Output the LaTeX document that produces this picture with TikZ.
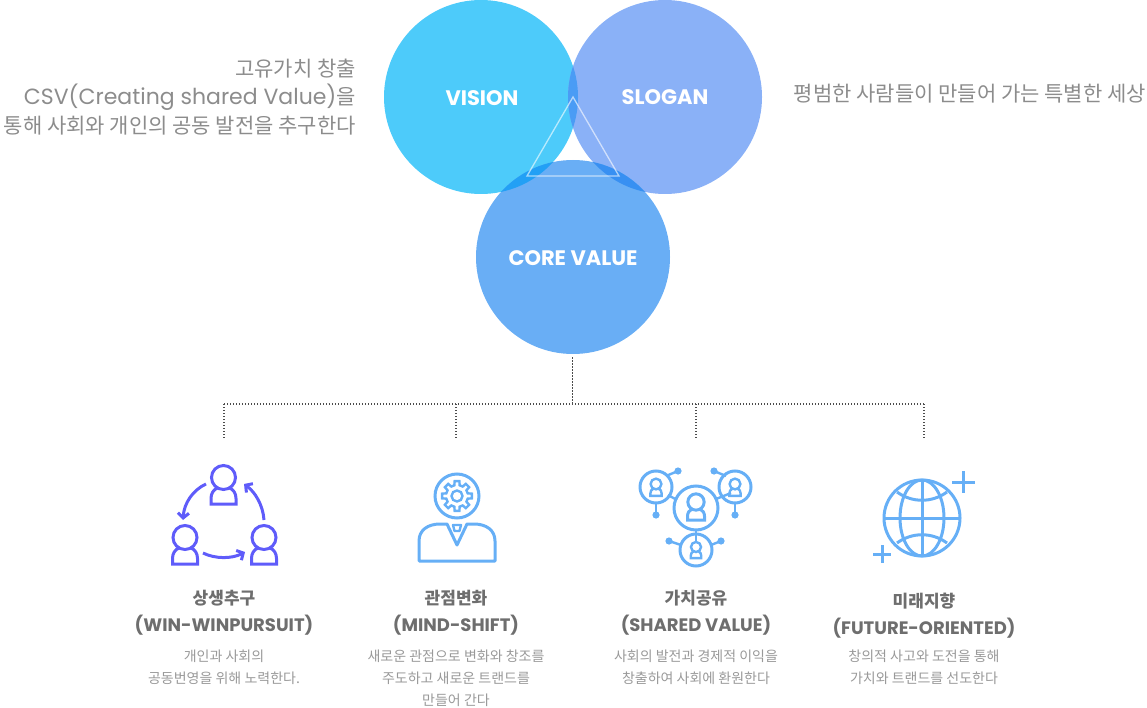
\documentclass[tikz,border=0pt]{standalone}
\usepackage{fontspec}
\setmainfont{Noto Sans CJK KR}
\newfontfamily\popfont{Poppins}
\usetikzlibrary{arrows.meta}
\definecolor{visionblue}{HTML}{4DCBFA}
\definecolor{sloganblue}{HTML}{8AB1F7}
\definecolor{coreblue}{HTML}{69AEF5}
\definecolor{lapvs}{HTML}{4A9CF5}
\definecolor{lapvc}{HTML}{22A0F5}
\definecolor{lapsc}{HTML}{3890F2}
\definecolor{iconblue}{HTML}{66AFF6}
\definecolor{iconviolet}{HTML}{5F5CFA}
\definecolor{titlegrey}{HTML}{6E6E6E}
\definecolor{sidegrey}{HTML}{8C8C8C}
\definecolor{descgrey}{HTML}{999999}
\tikzset{
  bigcircle/.style={circle, minimum size=194pt, inner sep=0pt},
  biglabel/.style={text=white, font=\popfont\bfseries\fontsize{21}{24}\selectfont},
  sidetext/.style={text=sidegrey, inner sep=0pt, align=right,
    font=\fontsize{21}{28.5}\selectfont},
  titlekr/.style={text=titlegrey, inner sep=0pt,
    font=\bfseries\fontsize{17}{20}\selectfont},
  titleen/.style={text=titlegrey, inner sep=0pt,
    font=\popfont\bfseries\fontsize{18}{22}\selectfont},
  desctext/.style={text=descgrey, inner sep=0pt, align=center,
    font=\fontsize{14}{22}\selectfont},
  treeline/.style={draw=black!70, line width=1.2pt, dash pattern=on 1.4pt off 1.6pt},
  violetline/.style={draw=iconviolet, line width=3pt},
  iconline/.style={draw=iconblue, line width=3pt},
  thinline/.style={draw=iconblue, line width=2.4pt},
  plusline/.style={draw=iconblue, line width=3pt},
  turnarrow/.style={violetline, -{Straight Barb[length=5pt, width=11pt]}},
  person/.pic={
    \draw (0,0) circle (12);
    \draw (-6,10.5) .. controls (-10,12) and (-12.5,16) .. (-12.5,21) -- (-12.5,26.5)
      -- (12.5,26.5) -- (12.5,21) .. controls (12.5,16) and (10,12) .. (6,10.5);
  },
  gearwheel/.pic={
    \draw (-14:11) \foreach \a in {0,45,...,315}{ -- (\a-14:11) -- (\a-9:15) -- (\a+9:15) -- (\a+14:11)} -- cycle;
    \draw (0,0) circle (5.5);
  },
}
\begin{document}
\begin{tikzpicture}[x=1pt, y=-1pt]
\useasboundingbox (0,0) rectangle (1147,708);
% --- circles ---
\node[bigcircle, fill=visionblue] (vision) at (481,97) {};
\node[bigcircle, fill=sloganblue] (slogan) at (665,97) {};
\node[bigcircle, fill=coreblue] (corevalue) at (573,257) {};
\begin{scope}
\clip (vision.center) circle (97pt);
\fill[lapvs] (slogan.center) circle (97pt);
\fill[lapvc] (corevalue.center) circle (97pt);
\end{scope}
\begin{scope}
\clip (slogan.center) circle (97pt);
\fill[lapsc] (corevalue.center) circle (97pt);
\end{scope}
\node[biglabel] (visionlab) at (482,98) {VISION};
\node[biglabel] (sloganlab) at (665,97) {SLOGAN};
\node[biglabel] (corelab) at (573,258) {CORE VALUE};
\coordinate (tritop) at (573,97);
\coordinate (trileft) at (527,176);
\coordinate (triright) at (619,176);
\draw[white, opacity=.6, line width=1.3pt] (tritop) -- (trileft) -- (triright) -- cycle;
% --- side texts ---
\node[sidetext, anchor=east] (lefttext) at (356,97) {고유가치 창출\\{\popfont\fontsize{22}{28.5}\selectfont CSV(Creating shared Value)}을\\통해 사회와 개인의 공동 발전을 추구한다};
\node[sidetext, anchor=east] (righttext) at (1146,94) {평범한 사람들이 만들어 가는 특별한 세상};
% --- dotted tree ---
\coordinate (hub) at (572.4,404);
\coordinate (treeleft) at (224,404);
\coordinate (treeright) at (924,404);
\coordinate (drop1) at (224,438);
\coordinate (drop2) at (456,438);
\coordinate (drop3) at (696,438);
\coordinate (drop4) at (924,438);
\draw[treeline] ([xshift=-.6pt, yshift=-3pt]corevalue.south) -- (hub);
\draw[treeline] (treeleft) -- (treeright);
\draw[treeline] (treeleft) -- (drop1);
\draw[treeline] (456,404) -- (drop2);
\draw[treeline] (696,404) -- (drop3);
\draw[treeline] (treeright) -- (drop4);
% --- icon: win-win ---
\pic[violetline] at (223.5,477.5) {person};
\pic[violetline] at (185,537.5) {person};
\pic[violetline] at (264,537.5) {person};
\draw[turnarrow] (206,484) .. controls (193,490) and (184,503) .. (183,520);
\draw[turnarrow] (264,520) .. controls (263,505) and (255,492) .. (244,484);
\draw[turnarrow] (203,553) .. controls (215,559) and (232,559) .. (245,552);
% --- icon: mind-shift ---
\draw[iconline] (457,496) circle (22);
\pic[thinline] at (457,496) {gearwheel};
\draw[iconline, line join=round] (419,561) -- (419,541) .. controls (419,530) and (428,524) .. (440,524) -- (447,524)
  -- (457,545) -- (467,524) -- (474,524) .. controls (486,524) and (495,530) .. (495,541) -- (495,561) -- cycle;
\draw[thinline, line join=round] (453,525) -- (461,525) -- (459.5,531) -- (454.5,531) -- cycle;
% --- icon: shared value ---
\draw[iconline] (696,508) circle (22);
\draw[iconline] (656,487) circle (16);
\draw[iconline] (735,487) circle (16);
\draw[iconline] (696,550) circle (16);
\pic[iconline, scale=.68] at (696,502) {person};
\pic[thinline, scale=.45] at (656,484) {person};
\pic[thinline, scale=.45] at (735,484) {person};
\pic[thinline, scale=.42] at (696,547) {person};
\draw[thinline] (668,495) -- (677,500);
\draw[thinline] (716,499) -- (731,493);
\draw[thinline] (696,530) -- (696,543);
\draw[thinline] (666,476) -- (678,471);
\draw[thinline] (726,476) -- (714,471);
\draw[thinline] (656,503) -- (656,515);
\draw[thinline] (735,503) -- (735,515);
\draw[thinline] (681,545) -- (669,541);
\draw[thinline] (711,545) -- (721,541);
\foreach \dotx/\doty in {678/471, 714/471, 656/515, 735/515, 669/541, 721/541}
  \fill[iconblue] (\dotx,\doty) circle (3.6);
% --- icon: future ---
\draw[iconline] (922,518) circle (38);
\draw[iconline] (922,518) ellipse (22 and 38);
\draw[iconline] (922,480) -- (922,556);
\draw[iconline] (884,518) -- (960,518);
\draw[iconline] (897,492) .. controls (912,503) and (932,503) .. (947,492);
\draw[iconline] (897,543) .. controls (912,532) and (932,532) .. (947,543);
\draw[plusline] (952,482) -- (975,482);
\draw[plusline] (963,471) -- (963,493);
\draw[plusline] (873,554) -- (891,554);
\draw[plusline] (882,545) -- (882,563);
% --- labels ---
\node[titlekr] (wintitle) at (224,598.5) {상생추구};
\node[titleen] (winname) at (224,625) {(WIN-WINPURSUIT)};
\node[desctext] (windesc) at (224,667.5) {개인과 사회의\\공동번영을 위해 노력한다.};
\node[titlekr] (mindtitle) at (456,598.5) {관점변화};
\node[titleen] (mindname) at (456,625) {(MIND-SHIFT)};
\node[desctext] (minddesc) at (456,678.5) {새로운 관점으로 변화와 창조를\\주도하고 새로운 트랜드를\\만들어 간다};
\node[titlekr] (sharetitle) at (696,598.5) {가치공유};
\node[titleen] (sharename) at (696,625) {(SHARED VALUE)};
\node[desctext] (sharedesc) at (696,667.5) {사회의 발전과 경제적 이익을\\창출하여 사회에 환원한다};
\node[titlekr] (futuretitle) at (924,601.5) {미래지향};
\node[titleen] (futurename) at (924,628) {(FUTURE-ORIENTED)};
\node[desctext] (futuredesc) at (924,667.5) {창의적 사고와 도전을 통해\\가치와 트랜드를 선도한다};
\end{tikzpicture}
\end{document}
